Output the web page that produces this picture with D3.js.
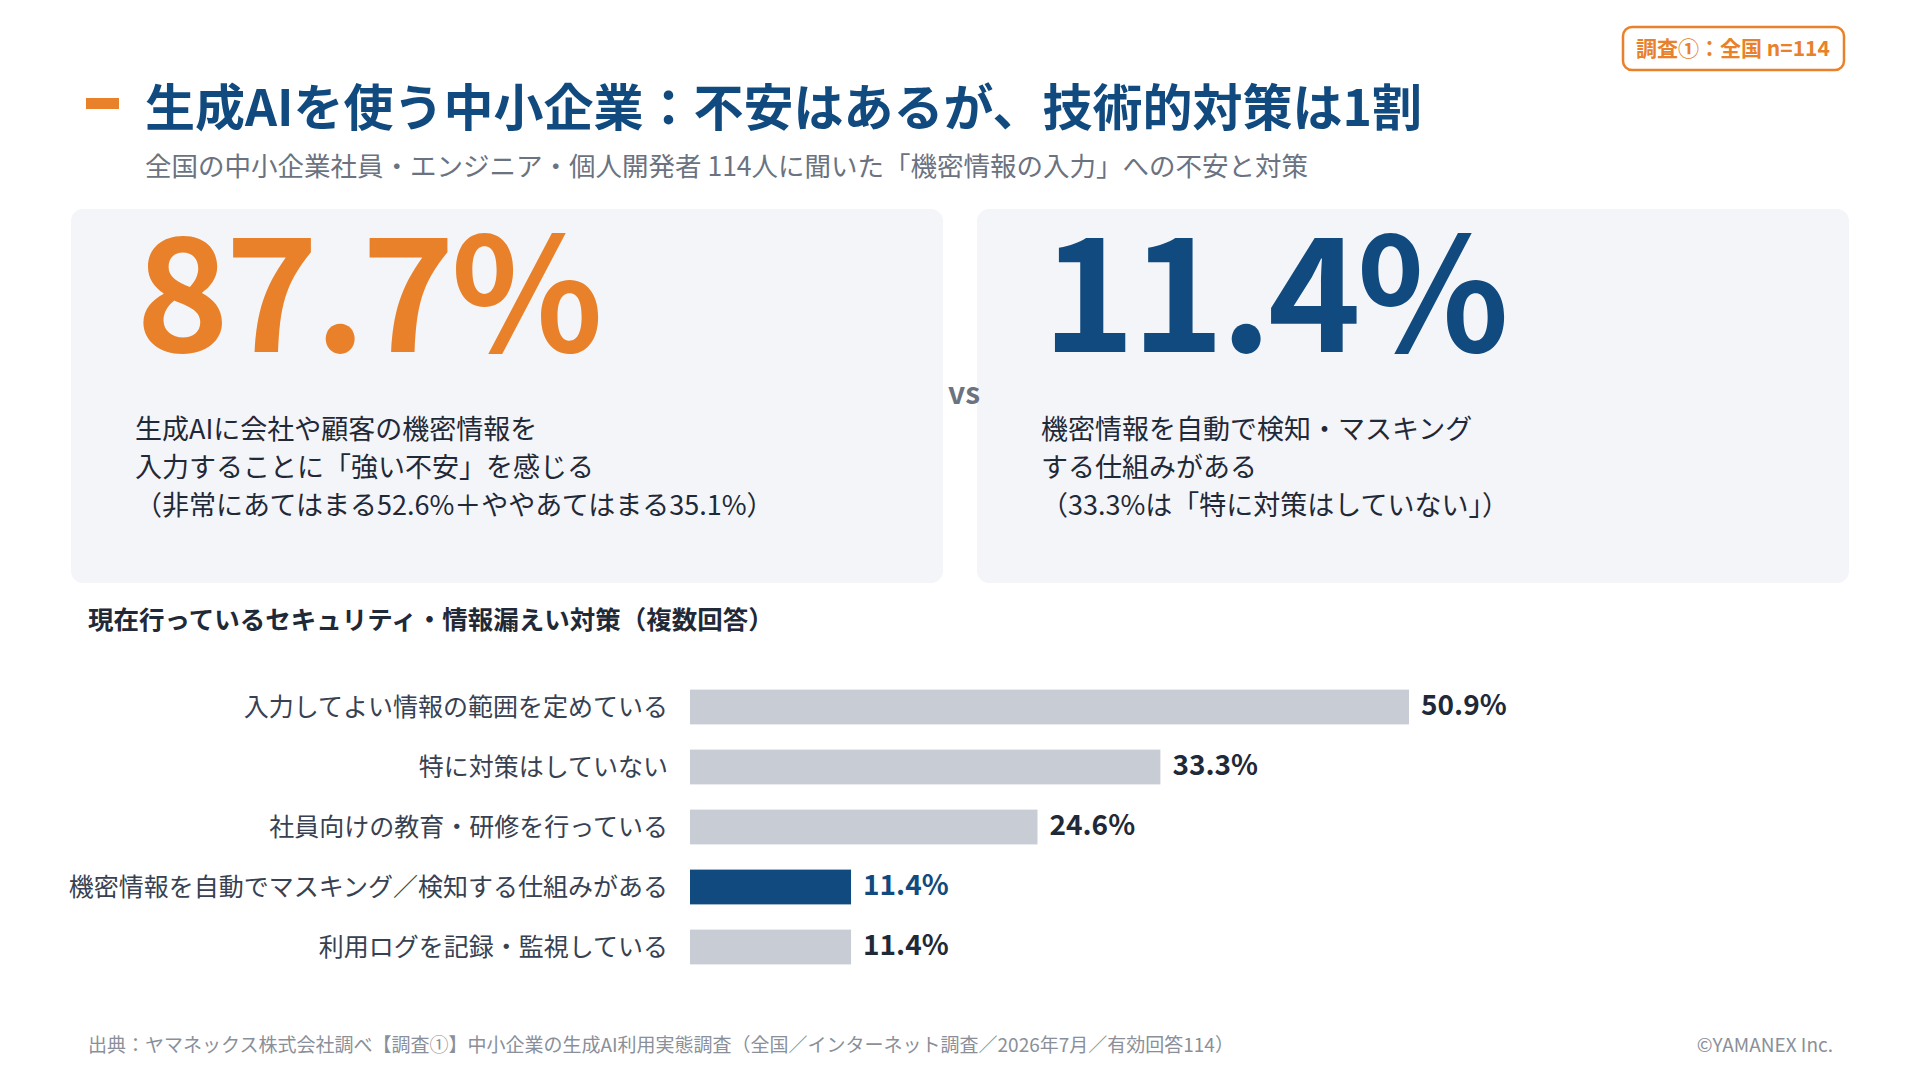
<!DOCTYPE html>
<html><head><meta charset="utf-8">
<script src="https://cdn.jsdelivr.net/npm/d3@7"></script>
<style>
body{margin:0;background:#fff;font-family:"Noto Sans CJK JP","Noto Sans",sans-serif;}
svg{display:block}
</style></head><body>
<svg id="chart" width="1920" height="1080"></svg>
<script>
// data
const categories = ["入力してよい情報の範囲を定めている","特に対策はしていない","社員向けの教育・研修を行っている","機密情報を自動でマスキング／検知する仕組みがある","利用ログを記録・監視している"];
const values = [50.9, 33.3, 24.6, 11.4, 11.4];
const highlight = [false, false, false, true, false];
const leftLines = ["生成AIに会社や顧客の機密情報を","入力することに「強い不安」を感じる","（非常にあてはまる52.6%＋ややあてはまる35.1%）"];
const rightLines = ["機密情報を自動で検知・マスキング","する仕組みがある","（33.3%は「特に対策はしていない」）"];

const ORANGE = "#e8812a", NAVY = "#114a7e", GRAY = "#c8ccd5";
const svg = d3.select("#chart");
const F = '"Noto Sans CJK JP","Noto Sans",sans-serif';

// header
svg.append("rect").attr("x",86).attr("y",98).attr("width",33).attr("height",11).attr("fill",ORANGE);
svg.append("text").attr("x",145).attr("y",126).attr("font-size",50).attr("font-weight",700).attr("fill",NAVY)
  .attr("font-family",F).text("生成AIを使う中小企業：不安はあるが、技術的対策は1割");
svg.append("text").attr("x",145).attr("y",176).attr("font-size",26.5).attr("fill","#6b7280")
  .attr("font-family",F).text("全国の中小企業社員・エンジニア・個人開発者 114人に聞いた「機密情報の入力」への不安と対策");
svg.append("rect").attr("x",1623).attr("y",27).attr("width",221).attr("height",43).attr("rx",9)
  .attr("fill","#fff").attr("stroke",ORANGE).attr("stroke-width",2.5);
svg.append("text").attr("x",1733).attr("y",56).attr("text-anchor","middle").attr("font-size",21).attr("font-weight",700)
  .attr("fill",ORANGE).attr("font-family",F).text("調査①：全国 n=114");

// cards
[[71,"87.7%",ORANGE,leftLines],[977,"11.4%",NAVY,rightLines]].forEach(([x,big,col,lines])=>{
  svg.append("rect").attr("x",x).attr("y",209).attr("width",872).attr("height",374).attr("rx",12).attr("fill","#f4f5f9");
  svg.append("text").attr("x",x+65).attr("y",352).attr("font-size",158).attr("font-weight",700).attr("fill",col)
    .attr("letter-spacing",-4).attr("font-family",F).text(big);
  lines.forEach((t,i)=>svg.append("text").attr("x",x+64).attr("y",439+i*38).attr("font-size",27)
    .attr("fill","#1f2937").attr("font-family",F).text(t));
});
svg.append("text").attr("x",964).attr("y",404).attr("text-anchor","middle").attr("font-size",30).attr("font-weight",700)
  .attr("fill","#6b7280").attr("font-family",F).text("vs");

// section title
svg.append("text").attr("x",88).attr("y",629).attr("font-size",25.5).attr("font-weight",700).attr("fill","#1f2937")
  .attr("font-family",F).text("現在行っているセキュリティ・情報漏えい対策（複数回答）");

// bars
const x = d3.scaleLinear().domain([0,50.9]).range([690,1409]);
const y = d3.scaleBand().domain(categories).range([677,977]).paddingInner(0.42).paddingOuter(0.21);
const g = svg.append("g");
g.selectAll("rect.bar").data(categories).join("rect").attr("class","bar")
  .attr("x",x(0)).attr("y",d=>y(d)).attr("height",y.bandwidth())
  .attr("width",(d,i)=>x(values[i])-x(0)).attr("fill",(d,i)=>highlight[i]?NAVY:GRAY);
g.selectAll("text.cat").data(categories).join("text").attr("class","cat")
  .attr("x",668).attr("y",d=>y(d)+y.bandwidth()/2).attr("dy","0.36em").attr("text-anchor","end")
  .attr("font-size",25).attr("fill","#374151").attr("font-family",F).text(d=>d);
g.selectAll("text.val").data(categories).join("text").attr("class","val")
  .attr("x",(d,i)=>x(values[i])+12).attr("y",d=>y(d)+y.bandwidth()/2).attr("dy","0.3em")
  .attr("font-size",28).attr("font-weight",700).attr("fill",(d,i)=>highlight[i]?NAVY:"#1f2937")
  .attr("font-family",F).text((d,i)=>values[i].toFixed(1)+"%");

// footer
svg.append("text").attr("x",88).attr("y",1052).attr("font-size",19).attr("fill","#8a8f99").attr("font-family",F)
  .text("出典：ヤマネックス株式会社調べ【調査①】中小企業の生成AI利用実態調査（全国／インターネット調査／2026年7月／有効回答114）");
svg.append("text").attr("x",1833).attr("y",1052).attr("text-anchor","end").attr("font-size",19).attr("fill","#8a8f99")
  .attr("font-family",F).text("©YAMANEX Inc.");
</script></body></html>
